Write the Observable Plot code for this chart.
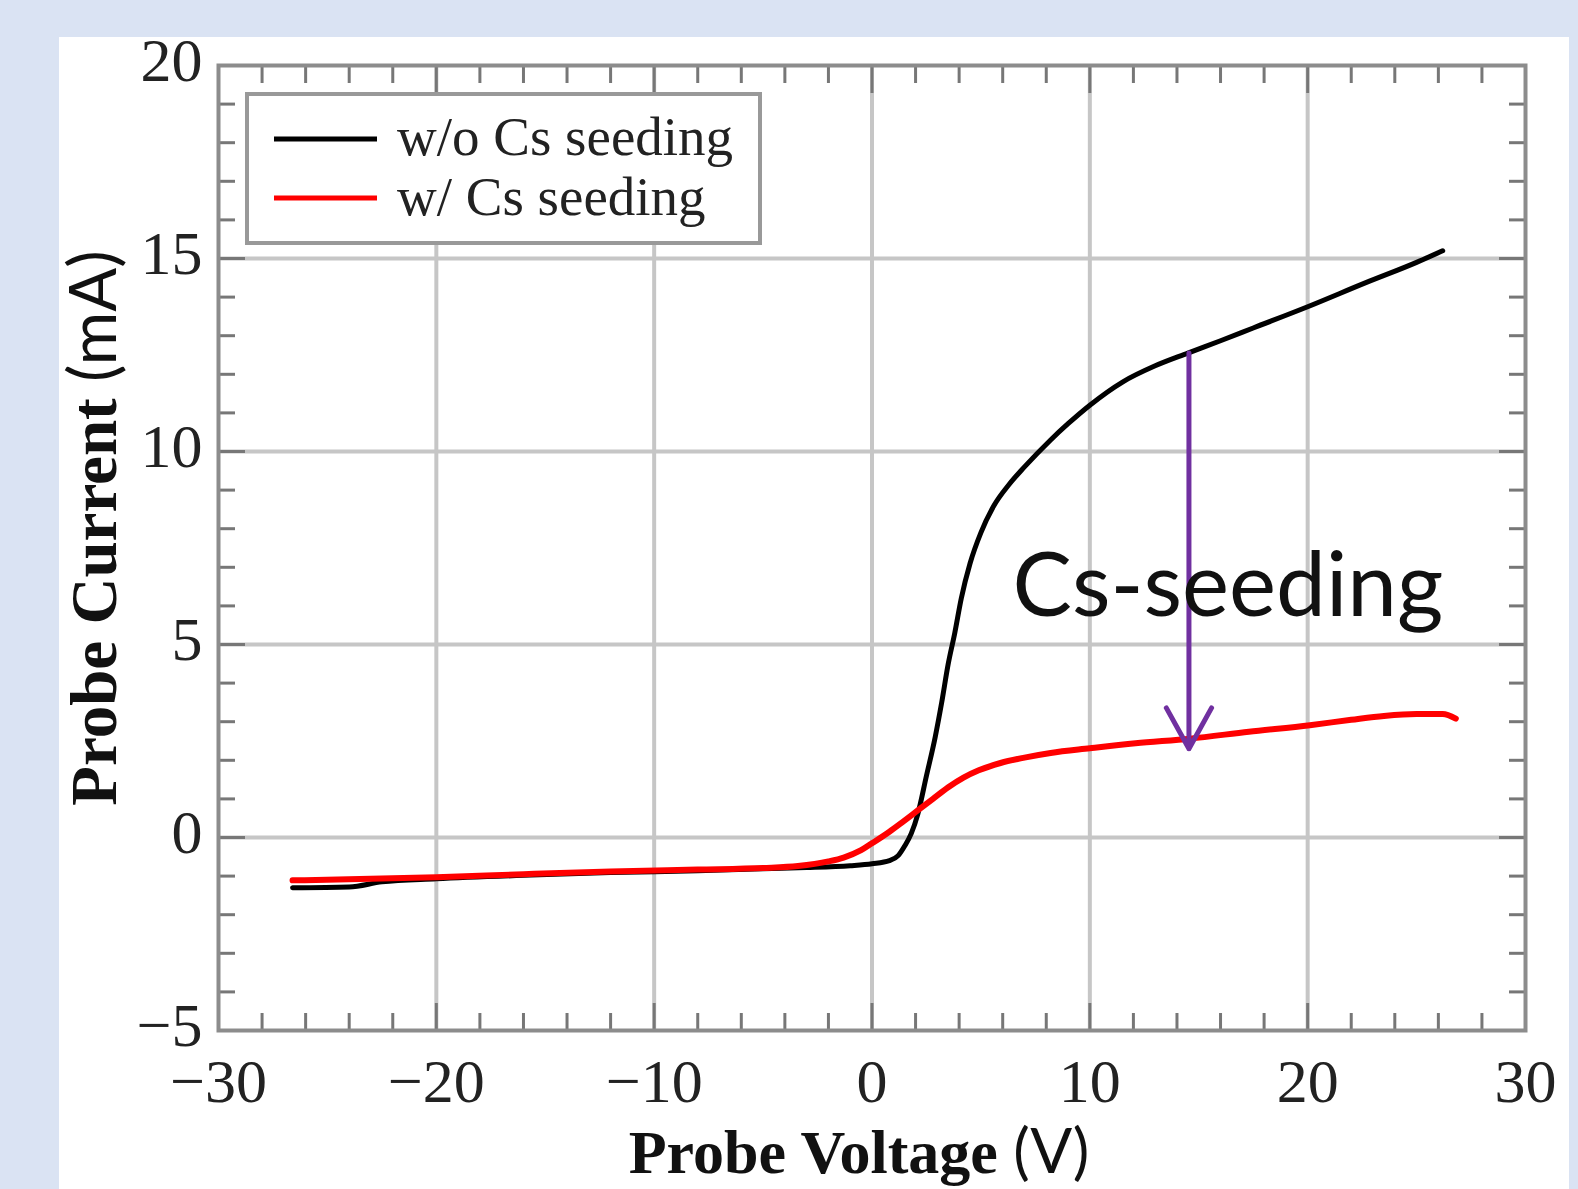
<!DOCTYPE html>
<html><head><meta charset="utf-8">
<script src="https://cdn.jsdelivr.net/npm/d3@7"></script>
<script src="https://cdn.jsdelivr.net/npm/@observablehq/plot@0.6"></script>
<style>
html,body{margin:0;padding:0;background:#dae3f3;width:1578px;height:1189px;overflow:hidden}
#panel{position:absolute;left:59px;top:37px;width:1510px;height:1152px;background:#fff}
</style></head><body><div id="panel"></div>
<script>
// ---- data ----
const voltageWithout = [-26.6, -24, -22.5, -20, -16, -12, -8, -5, -3, -1, 0, 0.8, 1.2, 1.5, 1.8, 2.1, 2.5, 2.9, 3.2, 3.5, 3.8, 4.1, 4.5, 5.0, 5.6, 6.3, 7.0, 8.2, 9.0, 10, 11.5, 13, 14.5, 16, 17.5, 20, 22.7, 25, 26.2];
const currentWithout = [-1.3, -1.28, -1.15, -1.07, -0.98, -0.91, -0.86, -0.81, -0.78, -0.73, -0.68, -0.6, -0.47, -0.22, 0.1, 0.6, 1.6, 2.6, 3.5, 4.5, 5.3, 6.2, 7.1, 7.9, 8.6, 9.15, 9.6, 10.3, 10.72, 11.2, 11.8, 12.22, 12.55, 12.87, 13.2, 13.75, 14.38, 14.9, 15.2];
const voltageWith = [-26.6, -20, -16, -12, -8, -5, -3.4, -2, -1.3, -0.5, 0, 0.8, 1.4, 2.1, 2.8, 3.5, 4.2, 4.9, 5.9, 7.0, 8.2, 10, 12.1, 14.6, 17.3, 20.1, 22, 23.5, 25, 26.2, 26.8];
const currentWith = [-1.11, -1.03, -0.95, -0.88, -0.83, -0.79, -0.74, -0.62, -0.52, -0.33, -0.15, 0.15, 0.4, 0.7, 1.0, 1.3, 1.55, 1.74, 1.93, 2.07, 2.19, 2.31, 2.44, 2.56, 2.74, 2.91, 3.05, 3.15, 3.2, 3.2, 3.08];
const seriesNames = ["w/o Cs seeding", "w/ Cs seeding"];
const seriesColors = ["#000000", "#ff0000"];
const xMajorTicks = [-30, -20, -10, 0, 10, 20, 30];
const xMinorTicks = [-28, -26, -24, -22, -18, -16, -14, -12, -8, -6, -4, -2, 2, 4, 6, 8, 12, 14, 16, 18, 22, 24, 26, 28];
const yMajorTicks = [-5, 0, 5, 10, 15, 20];
const yMinorTicks = [-4, -3, -2, -1, 1, 2, 3, 4, 6, 7, 8, 9, 11, 12, 13, 14, 16, 17, 18, 19];
const xGrid = [-20, -10, 0, 10, 20];
const yGrid = [0, 5, 10, 15];
const arrowVoltage = [14.55];
const arrowFrom = [12.55];
const arrowTo = [2.3];
const annotationText = ["Cs-seeding"];
const annotationAt = [6.45, 5.75];
const xLabel = ["Probe Voltage ", "(V)"];
const yLabel = ["Probe Current ", "(mA)"];

// ---- tables ----
const withoutData = voltageWithout.map((v, i) => ({v, i: currentWithout[i]}));
const withData = voltageWith.map((v, i) => ({v, i: currentWith[i]}));
const arrowData = arrowVoltage.map((v, k) => ({v, from: arrowFrom[k], to: arrowTo[k]}));
const noteData = annotationText.map(t => ({t, v: annotationAt[0], i: annotationAt[1]}));

const fmt = d => d < 0 ? "\u2212" + Math.abs(d) : String(d);
const tickColor = "#777";

const chart = Plot.plot({
  width: 1510, height: 1152,
  marginLeft: 159, marginRight: 44, marginTop: 28, marginBottom: 159,
  x: {domain: [-30, 30]},
  y: {domain: [-5, 20]},
  style: {fontFamily: "'Liberation Serif', serif", background: "transparent", overflow: "visible"},
  marks: [
    Plot.gridX(xGrid, {stroke: "#c6c6c6", strokeOpacity: 1, strokeWidth: 4}),
    Plot.gridY(yGrid, {stroke: "#c6c6c6", strokeOpacity: 1, strokeWidth: 4}),
    Plot.axisX(xMinorTicks, {anchor: "bottom", tickSize: -17, fill: "none", label: null, stroke: tickColor, strokeWidth: 3}),
    Plot.axisX(xMinorTicks, {anchor: "top", tickSize: -17, fill: "none", label: null, stroke: tickColor, strokeWidth: 3}),
    Plot.axisX(xMajorTicks, {anchor: "bottom", tickSize: -27, fill: "none", label: null, stroke: tickColor, strokeWidth: 3}),
    Plot.axisX(xMajorTicks, {anchor: "top", tickSize: -27, fill: "none", label: null, stroke: tickColor, strokeWidth: 3}),
    Plot.axisY(yMinorTicks, {anchor: "left", tickSize: -17, fill: "none", label: null, stroke: tickColor, strokeWidth: 3}),
    Plot.axisY(yMinorTicks, {anchor: "right", tickSize: -17, fill: "none", label: null, stroke: tickColor, strokeWidth: 3}),
    Plot.axisY(yMajorTicks, {anchor: "left", tickSize: -27, fill: "none", label: null, stroke: tickColor, strokeWidth: 3}),
    Plot.axisY(yMajorTicks, {anchor: "right", tickSize: -27, fill: "none", label: null, stroke: tickColor, strokeWidth: 3}),
    Plot.line(withoutData, {x: "v", y: "i", stroke: seriesColors[0], strokeWidth: 5, curve: "monotone-x"}),
    Plot.line(withData, {x: "v", y: "i", stroke: seriesColors[1], strokeWidth: 6, curve: "monotone-x"}),
    Plot.arrow(arrowData, {x1: "v", x2: "v", y1: "from", y2: "to", stroke: "#7030a0", strokeWidth: 5, headLength: 14, headAngle: 58}),
    Plot.text(noteData, {x: "v", y: "i", text: "t", fontSize: 89, fontFamily: "Lato", textAnchor: "start", lineAnchor: "bottom", fill: "#111"}),
    Plot.frame({stroke: "#8c8c8c", strokeWidth: 4}),
    Plot.axisX(xMajorTicks, {anchor: "bottom", tickSize: 0, tickPadding: 27, fontSize: 62, tickFormat: fmt, label: null, fill: "#222"}),
    Plot.axisY(yMajorTicks, {anchor: "left", tickSize: 0, tickPadding: 16, fontSize: 62, dy: -4, tickFormat: fmt, label: null, fill: "#222"})
  ]
});
document.getElementById("panel").appendChild(chart);

const svg = d3.select(chart);
// legend
const lg = svg.append("g");
lg.append("rect").attr("x", 188).attr("y", 57).attr("width", 513).attr("height", 149)
  .attr("fill", "#fff").attr("stroke", "#999").attr("stroke-width", 4);
seriesNames.forEach((name, k) => {
  const cy = 102 + k * 59;
  lg.append("line").attr("x1", 215).attr("x2", 318).attr("y1", cy).attr("y2", cy)
    .attr("stroke", seriesColors[k]).attr("stroke-width", 5);
  lg.append("text").attr("x", 338).attr("y", 118 + k * 60).attr("text-anchor", "start")
    .attr("font-family", "'Liberation Serif', serif").attr("font-size", 55).attr("fill", "#222")
    .text(name);
});
// axis labels
const xl = svg.append("text").attr("x", 800).attr("y", 1136).attr("text-anchor", "middle").attr("font-size", 62).attr("fill", "#111");
xl.append("tspan").attr("font-family", "'Liberation Serif', serif").attr("font-weight", "bold").text(xLabel[0]);
xl.append("tspan").attr("font-family", "Lato").text(xLabel[1]);
const yl = svg.append("text").attr("transform", "translate(57,491) rotate(-90)").attr("text-anchor", "middle").attr("font-size", 65).attr("fill", "#111");
yl.append("tspan").attr("font-family", "'Liberation Serif', serif").attr("font-weight", "bold").text(yLabel[0]);
yl.append("tspan").attr("font-family", "Lato").text(yLabel[1]);
</script>
</body></html>
